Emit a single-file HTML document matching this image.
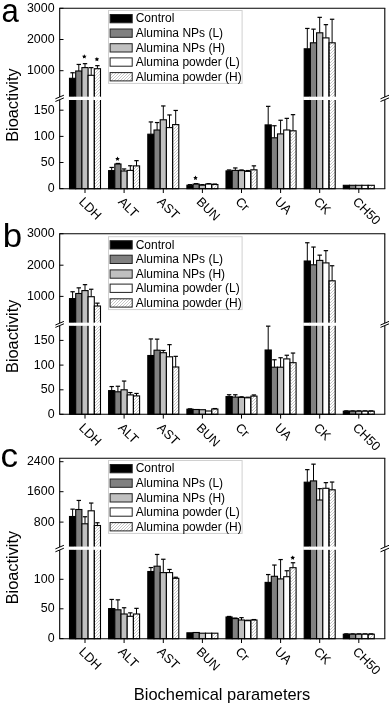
<!DOCTYPE html><html><head><meta charset="utf-8"><style>html,body{margin:0;padding:0;background:#fff;width:392px;height:706px;overflow:hidden}svg{display:block;will-change:transform}text{font-family:"Liberation Sans", sans-serif;fill:#000}</style></head><body>
<svg width="392" height="706" viewBox="0 0 392 706">
<defs><pattern id="hatch" patternUnits="userSpaceOnUse" width="3" height="3"><path d="M-0.75,0.75 L0.75,-0.75 M0,3 L3,0 M2.25,3.75 L3.75,2.25" stroke="#b4b4b4" stroke-width="0.75"/></pattern></defs>
<rect width="392" height="706" fill="#fff"/>
<line x1="72.6" y1="78.3" x2="72.6" y2="72.75" stroke="#000" stroke-width="1"/>
<line x1="70.4" y1="72.75" x2="74.8" y2="72.75" stroke="#000" stroke-width="1.2"/>
<rect x="69.5" y="78.3" width="6.2" height="110.4" fill="#000000" stroke="#000" stroke-width="1.1"/>
<rect x="68.5" y="96.7" width="8.2" height="3.3" fill="#fff"/>
<line x1="78.8" y1="71" x2="78.8" y2="64.45" stroke="#000" stroke-width="1"/>
<line x1="76.6" y1="64.45" x2="81" y2="64.45" stroke="#000" stroke-width="1.2"/>
<rect x="75.7" y="71" width="6.2" height="117.7" fill="#808080" stroke="#000" stroke-width="1.1"/>
<rect x="74.7" y="96.7" width="8.2" height="3.3" fill="#fff"/>
<line x1="85" y1="67.6" x2="85" y2="63.65" stroke="#000" stroke-width="1"/>
<line x1="82.8" y1="63.65" x2="87.2" y2="63.65" stroke="#000" stroke-width="1.2"/>
<rect x="81.9" y="67.6" width="6.2" height="121.1" fill="#c0c0c0" stroke="#000" stroke-width="1.1"/>
<rect x="80.9" y="96.7" width="8.2" height="3.3" fill="#fff"/>
<line x1="91.2" y1="75.3" x2="91.2" y2="67.65" stroke="#000" stroke-width="1"/>
<line x1="89" y1="67.65" x2="93.4" y2="67.65" stroke="#000" stroke-width="1.2"/>
<rect x="88.1" y="75.3" width="6.2" height="113.4" fill="#ffffff" stroke="#000" stroke-width="1.1"/>
<rect x="87.1" y="96.7" width="8.2" height="3.3" fill="#fff"/>
<line x1="97.4" y1="68.7" x2="97.4" y2="65.65" stroke="#000" stroke-width="1"/>
<line x1="95.2" y1="65.65" x2="99.6" y2="65.65" stroke="#000" stroke-width="1.2"/>
<rect x="94.3" y="68.7" width="6.2" height="120" fill="url(#hatch)" stroke="#000" stroke-width="1.1"/>
<rect x="93.3" y="96.7" width="8.2" height="3.3" fill="#fff"/>
<line x1="111.7" y1="170.6" x2="111.7" y2="167.45" stroke="#000" stroke-width="1"/>
<line x1="109.5" y1="167.45" x2="113.9" y2="167.45" stroke="#000" stroke-width="1.2"/>
<rect x="108.6" y="170.6" width="6.2" height="18.1" fill="#000000" stroke="#000" stroke-width="1.1"/>
<line x1="117.9" y1="164" x2="117.9" y2="163.45" stroke="#000" stroke-width="1"/>
<line x1="115.7" y1="163.45" x2="120.1" y2="163.45" stroke="#000" stroke-width="1.2"/>
<rect x="114.8" y="164" width="6.2" height="24.7" fill="#808080" stroke="#000" stroke-width="1.1"/>
<line x1="124.1" y1="171" x2="124.1" y2="168.95" stroke="#000" stroke-width="1"/>
<line x1="121.9" y1="168.95" x2="126.3" y2="168.95" stroke="#000" stroke-width="1.2"/>
<rect x="121" y="171" width="6.2" height="17.7" fill="#c0c0c0" stroke="#000" stroke-width="1.1"/>
<line x1="130.3" y1="170.4" x2="130.3" y2="165.75" stroke="#000" stroke-width="1"/>
<line x1="128.1" y1="165.75" x2="132.5" y2="165.75" stroke="#000" stroke-width="1.2"/>
<rect x="127.2" y="170.4" width="6.2" height="18.3" fill="#ffffff" stroke="#000" stroke-width="1.1"/>
<line x1="136.5" y1="165.9" x2="136.5" y2="160.65" stroke="#000" stroke-width="1"/>
<line x1="134.3" y1="160.65" x2="138.7" y2="160.65" stroke="#000" stroke-width="1.2"/>
<rect x="133.4" y="165.9" width="6.2" height="22.8" fill="url(#hatch)" stroke="#000" stroke-width="1.1"/>
<line x1="150.9" y1="134.2" x2="150.9" y2="121.95" stroke="#000" stroke-width="1"/>
<line x1="148.7" y1="121.95" x2="153.1" y2="121.95" stroke="#000" stroke-width="1.2"/>
<rect x="147.8" y="134.2" width="6.2" height="54.5" fill="#000000" stroke="#000" stroke-width="1.1"/>
<line x1="157.1" y1="130" x2="157.1" y2="122.55" stroke="#000" stroke-width="1"/>
<line x1="154.9" y1="122.55" x2="159.3" y2="122.55" stroke="#000" stroke-width="1.2"/>
<rect x="154" y="130" width="6.2" height="58.7" fill="#808080" stroke="#000" stroke-width="1.1"/>
<line x1="163.3" y1="119.8" x2="163.3" y2="105.95" stroke="#000" stroke-width="1"/>
<line x1="161.1" y1="105.95" x2="165.5" y2="105.95" stroke="#000" stroke-width="1.2"/>
<rect x="160.2" y="119.8" width="6.2" height="68.9" fill="#c0c0c0" stroke="#000" stroke-width="1.1"/>
<line x1="169.5" y1="127.6" x2="169.5" y2="114.95" stroke="#000" stroke-width="1"/>
<line x1="167.3" y1="114.95" x2="171.7" y2="114.95" stroke="#000" stroke-width="1.2"/>
<rect x="166.4" y="127.6" width="6.2" height="61.1" fill="#ffffff" stroke="#000" stroke-width="1.1"/>
<line x1="175.7" y1="124.6" x2="175.7" y2="110.45" stroke="#000" stroke-width="1"/>
<line x1="173.5" y1="110.45" x2="177.9" y2="110.45" stroke="#000" stroke-width="1.2"/>
<rect x="172.6" y="124.6" width="6.2" height="64.1" fill="url(#hatch)" stroke="#000" stroke-width="1.1"/>
<line x1="190" y1="185.2" x2="190" y2="184.65" stroke="#000" stroke-width="1"/>
<line x1="187.8" y1="184.65" x2="192.2" y2="184.65" stroke="#000" stroke-width="1.2"/>
<rect x="186.9" y="185.2" width="6.2" height="3.5" fill="#000000" stroke="#000" stroke-width="1.1"/>
<line x1="196.2" y1="184.1" x2="196.2" y2="183.65" stroke="#000" stroke-width="1"/>
<line x1="194" y1="183.65" x2="198.4" y2="183.65" stroke="#000" stroke-width="1.2"/>
<rect x="193.1" y="184.1" width="6.2" height="4.6" fill="#808080" stroke="#000" stroke-width="1.1"/>
<line x1="202.4" y1="185.2" x2="202.4" y2="184.65" stroke="#000" stroke-width="1"/>
<line x1="200.2" y1="184.65" x2="204.6" y2="184.65" stroke="#000" stroke-width="1.2"/>
<rect x="199.3" y="185.2" width="6.2" height="3.5" fill="#c0c0c0" stroke="#000" stroke-width="1.1"/>
<line x1="208.6" y1="184.1" x2="208.6" y2="183.65" stroke="#000" stroke-width="1"/>
<line x1="206.4" y1="183.65" x2="210.8" y2="183.65" stroke="#000" stroke-width="1.2"/>
<rect x="205.5" y="184.1" width="6.2" height="4.6" fill="#ffffff" stroke="#000" stroke-width="1.1"/>
<line x1="214.8" y1="184.5" x2="214.8" y2="184.05" stroke="#000" stroke-width="1"/>
<line x1="212.6" y1="184.05" x2="217" y2="184.05" stroke="#000" stroke-width="1.2"/>
<rect x="211.7" y="184.5" width="6.2" height="4.2" fill="url(#hatch)" stroke="#000" stroke-width="1.1"/>
<line x1="229.1" y1="170.9" x2="229.1" y2="169.95" stroke="#000" stroke-width="1"/>
<line x1="226.9" y1="169.95" x2="231.3" y2="169.95" stroke="#000" stroke-width="1.2"/>
<rect x="226" y="170.9" width="6.2" height="17.8" fill="#000000" stroke="#000" stroke-width="1.1"/>
<line x1="235.3" y1="170.4" x2="235.3" y2="167.95" stroke="#000" stroke-width="1"/>
<line x1="233.1" y1="167.95" x2="237.5" y2="167.95" stroke="#000" stroke-width="1.2"/>
<rect x="232.2" y="170.4" width="6.2" height="18.3" fill="#808080" stroke="#000" stroke-width="1.1"/>
<line x1="241.5" y1="170.6" x2="241.5" y2="169.95" stroke="#000" stroke-width="1"/>
<line x1="239.3" y1="169.95" x2="243.7" y2="169.95" stroke="#000" stroke-width="1.2"/>
<rect x="238.4" y="170.6" width="6.2" height="18.1" fill="#c0c0c0" stroke="#000" stroke-width="1.1"/>
<line x1="247.7" y1="171.4" x2="247.7" y2="170.55" stroke="#000" stroke-width="1"/>
<line x1="245.5" y1="170.55" x2="249.9" y2="170.55" stroke="#000" stroke-width="1.2"/>
<rect x="244.6" y="171.4" width="6.2" height="17.3" fill="#ffffff" stroke="#000" stroke-width="1.1"/>
<line x1="253.9" y1="169.8" x2="253.9" y2="165.85" stroke="#000" stroke-width="1"/>
<line x1="251.7" y1="165.85" x2="256.1" y2="165.85" stroke="#000" stroke-width="1.2"/>
<rect x="250.8" y="169.8" width="6.2" height="18.9" fill="url(#hatch)" stroke="#000" stroke-width="1.1"/>
<line x1="268.2" y1="124.9" x2="268.2" y2="106.35" stroke="#000" stroke-width="1"/>
<line x1="266" y1="106.35" x2="270.4" y2="106.35" stroke="#000" stroke-width="1.2"/>
<rect x="265.1" y="124.9" width="6.2" height="63.8" fill="#000000" stroke="#000" stroke-width="1.1"/>
<line x1="274.4" y1="137.8" x2="274.4" y2="125.75" stroke="#000" stroke-width="1"/>
<line x1="272.2" y1="125.75" x2="276.6" y2="125.75" stroke="#000" stroke-width="1.2"/>
<rect x="271.3" y="137.8" width="6.2" height="50.9" fill="#808080" stroke="#000" stroke-width="1.1"/>
<line x1="280.6" y1="133.9" x2="280.6" y2="120.25" stroke="#000" stroke-width="1"/>
<line x1="278.4" y1="120.25" x2="282.8" y2="120.25" stroke="#000" stroke-width="1.2"/>
<rect x="277.5" y="133.9" width="6.2" height="54.8" fill="#c0c0c0" stroke="#000" stroke-width="1.1"/>
<line x1="286.8" y1="130" x2="286.8" y2="118.35" stroke="#000" stroke-width="1"/>
<line x1="284.6" y1="118.35" x2="289" y2="118.35" stroke="#000" stroke-width="1.2"/>
<rect x="283.7" y="130" width="6.2" height="58.7" fill="#ffffff" stroke="#000" stroke-width="1.1"/>
<line x1="293" y1="130.8" x2="293" y2="114.65" stroke="#000" stroke-width="1"/>
<line x1="290.8" y1="114.65" x2="295.2" y2="114.65" stroke="#000" stroke-width="1.2"/>
<rect x="289.9" y="130.8" width="6.2" height="57.9" fill="url(#hatch)" stroke="#000" stroke-width="1.1"/>
<line x1="307.3" y1="48.8" x2="307.3" y2="28.45" stroke="#000" stroke-width="1"/>
<line x1="305.1" y1="28.45" x2="309.5" y2="28.45" stroke="#000" stroke-width="1.2"/>
<rect x="304.2" y="48.8" width="6.2" height="139.9" fill="#000000" stroke="#000" stroke-width="1.1"/>
<rect x="303.2" y="96.7" width="8.2" height="3.3" fill="#fff"/>
<line x1="313.5" y1="42.8" x2="313.5" y2="29.15" stroke="#000" stroke-width="1"/>
<line x1="311.3" y1="29.15" x2="315.7" y2="29.15" stroke="#000" stroke-width="1.2"/>
<rect x="310.4" y="42.8" width="6.2" height="145.9" fill="#808080" stroke="#000" stroke-width="1.1"/>
<rect x="309.4" y="96.7" width="8.2" height="3.3" fill="#fff"/>
<line x1="319.7" y1="32.8" x2="319.7" y2="17.35" stroke="#000" stroke-width="1"/>
<line x1="317.5" y1="17.35" x2="321.9" y2="17.35" stroke="#000" stroke-width="1.2"/>
<rect x="316.6" y="32.8" width="6.2" height="155.9" fill="#c0c0c0" stroke="#000" stroke-width="1.1"/>
<rect x="315.6" y="96.7" width="8.2" height="3.3" fill="#fff"/>
<line x1="325.9" y1="37.9" x2="325.9" y2="24.65" stroke="#000" stroke-width="1"/>
<line x1="323.7" y1="24.65" x2="328.1" y2="24.65" stroke="#000" stroke-width="1.2"/>
<rect x="322.8" y="37.9" width="6.2" height="150.8" fill="#ffffff" stroke="#000" stroke-width="1.1"/>
<rect x="321.8" y="96.7" width="8.2" height="3.3" fill="#fff"/>
<line x1="332.1" y1="42.8" x2="332.1" y2="19.25" stroke="#000" stroke-width="1"/>
<line x1="329.9" y1="19.25" x2="334.3" y2="19.25" stroke="#000" stroke-width="1.2"/>
<rect x="329" y="42.8" width="6.2" height="145.9" fill="url(#hatch)" stroke="#000" stroke-width="1.1"/>
<rect x="328" y="96.7" width="8.2" height="3.3" fill="#fff"/>
<rect x="343.3" y="185.3" width="6.2" height="3.4" fill="#000000" stroke="#000" stroke-width="1.1"/>
<rect x="349.5" y="185.3" width="6.2" height="3.4" fill="#808080" stroke="#000" stroke-width="1.1"/>
<rect x="355.7" y="185.3" width="6.2" height="3.4" fill="#c0c0c0" stroke="#000" stroke-width="1.1"/>
<rect x="361.9" y="185.3" width="6.2" height="3.4" fill="#ffffff" stroke="#000" stroke-width="1.1"/>
<rect x="368.1" y="185.3" width="6.2" height="3.4" fill="url(#hatch)" stroke="#000" stroke-width="1.1"/>
<polygon points="84.3,54.2 85.01,55.63 86.58,55.86 85.44,56.97 85.71,58.54 84.3,57.8 82.89,58.54 83.16,56.97 82.02,55.86 83.59,55.63" fill="#000"/>
<polygon points="96.9,56.9 97.61,58.33 99.18,58.56 98.04,59.67 98.31,61.24 96.9,60.5 95.49,61.24 95.76,59.67 94.62,58.56 96.19,58.33" fill="#000"/>
<polygon points="117.5,156.5 118.21,157.93 119.78,158.16 118.64,159.27 118.91,160.84 117.5,160.1 116.09,160.84 116.36,159.27 115.22,158.16 116.79,157.93" fill="#000"/>
<polygon points="195.5,175.6 196.21,177.03 197.78,177.26 196.64,178.37 196.91,179.94 195.5,179.2 194.09,179.94 194.36,178.37 193.22,177.26 194.79,177.03" fill="#000"/>
<line x1="59.7" y1="8.3" x2="59.7" y2="97" stroke="#000" stroke-width="1.1"/>
<line x1="59.7" y1="99.7" x2="59.7" y2="188.7" stroke="#000" stroke-width="1.1"/>
<line x1="384.8" y1="8.3" x2="384.8" y2="97" stroke="#000" stroke-width="1.1"/>
<line x1="384.8" y1="99.7" x2="384.8" y2="188.7" stroke="#000" stroke-width="1.1"/>
<line x1="59.2" y1="188.7" x2="385.3" y2="188.7" stroke="#000" stroke-width="1.1"/>
<line x1="59.2" y1="8.3" x2="385.3" y2="8.3" stroke="#000" stroke-width="1.1"/>
<rect x="58.2" y="97" width="3" height="2.7" fill="#fff"/>
<line x1="55.4" y1="98.8" x2="63.9" y2="95.2" stroke="#000" stroke-width="1"/>
<line x1="55.4" y1="101.5" x2="63.9" y2="97.9" stroke="#000" stroke-width="1"/>
<rect x="383.3" y="97" width="3" height="2.7" fill="#fff"/>
<line x1="380.5" y1="98.8" x2="389" y2="95.2" stroke="#000" stroke-width="1"/>
<line x1="380.5" y1="101.5" x2="389" y2="97.9" stroke="#000" stroke-width="1"/>
<line x1="59.7" y1="8.3" x2="63.5" y2="8.3" stroke="#000" stroke-width="1"/>
<text font-size="12.2" text-anchor="end" transform="translate(54.6,11.9) scale(1.02,1)">3000</text>
<line x1="59.7" y1="39.5" x2="63.5" y2="39.5" stroke="#000" stroke-width="1"/>
<text font-size="12.2" text-anchor="end" transform="translate(54.6,43.1) scale(1.02,1)">2000</text>
<line x1="59.7" y1="70.7" x2="63.5" y2="70.7" stroke="#000" stroke-width="1"/>
<text font-size="12.2" text-anchor="end" transform="translate(54.6,74.3) scale(1.02,1)">1000</text>
<line x1="59.7" y1="110.2" x2="63.5" y2="110.2" stroke="#000" stroke-width="1"/>
<text font-size="12.2" text-anchor="end" transform="translate(54.6,113.8) scale(1.02,1)">150</text>
<line x1="59.7" y1="136.4" x2="63.5" y2="136.4" stroke="#000" stroke-width="1"/>
<text font-size="12.2" text-anchor="end" transform="translate(54.6,140) scale(1.02,1)">100</text>
<line x1="59.7" y1="162.5" x2="63.5" y2="162.5" stroke="#000" stroke-width="1"/>
<text font-size="12.2" text-anchor="end" transform="translate(54.6,166.1) scale(1.02,1)">50</text>
<line x1="59.7" y1="188.6" x2="63.5" y2="188.6" stroke="#000" stroke-width="1"/>
<text font-size="12.2" text-anchor="end" transform="translate(54.6,192.2) scale(1.02,1)">0</text>
<line x1="85" y1="188.7" x2="85" y2="193" stroke="#000" stroke-width="1"/>
<text font-size="12.8" transform="translate(78.3,202.4) rotate(45)">LDH</text>
<line x1="124.1" y1="188.7" x2="124.1" y2="193" stroke="#000" stroke-width="1"/>
<text font-size="12.8" transform="translate(117.4,202.4) rotate(45)">ALT</text>
<line x1="163.3" y1="188.7" x2="163.3" y2="193" stroke="#000" stroke-width="1"/>
<text font-size="12.8" transform="translate(156.6,202.4) rotate(45)">AST</text>
<line x1="202.4" y1="188.7" x2="202.4" y2="193" stroke="#000" stroke-width="1"/>
<text font-size="12.8" transform="translate(195.7,202.4) rotate(45)">BUN</text>
<line x1="241.5" y1="188.7" x2="241.5" y2="193" stroke="#000" stroke-width="1"/>
<text font-size="12.8" transform="translate(234.8,202.4) rotate(45)">Cr</text>
<line x1="280.6" y1="188.7" x2="280.6" y2="193" stroke="#000" stroke-width="1"/>
<text font-size="12.8" transform="translate(273.9,202.4) rotate(45)">UA</text>
<line x1="319.7" y1="188.7" x2="319.7" y2="193" stroke="#000" stroke-width="1"/>
<text font-size="12.8" transform="translate(313,202.4) rotate(45)">CK</text>
<line x1="358.8" y1="188.7" x2="358.8" y2="193" stroke="#000" stroke-width="1"/>
<text font-size="12.8" transform="translate(352.1,202.4) rotate(45)">CH50</text>
<rect x="108.5" y="10.5" width="133.6" height="72.9" fill="#fff" stroke="#d0d0d0" stroke-width="1"/>
<rect x="110.1" y="14.5" width="22.1" height="8.3" fill="#000000" stroke="#222" stroke-width="1"/>
<text x="135.7" y="22.4" font-size="12">Control</text>
<rect x="110.1" y="29" width="22.1" height="8.3" fill="#808080" stroke="#222" stroke-width="1"/>
<text x="135.7" y="36.9" font-size="12">Alumina NPs (L)</text>
<rect x="110.1" y="43.7" width="22.1" height="8.3" fill="#c0c0c0" stroke="#222" stroke-width="1"/>
<text x="135.7" y="51.6" font-size="12">Alumina NPs (H)</text>
<rect x="110.1" y="57.9" width="22.1" height="8.3" fill="#ffffff" stroke="#222" stroke-width="1"/>
<text x="135.7" y="65.8" font-size="12">Alumina powder (L)</text>
<rect x="110.1" y="72.6" width="22.1" height="8.3" fill="url(#hatch)" stroke="#222" stroke-width="1"/>
<text x="135.7" y="80.5" font-size="12">Alumina powder (H)</text>
<text font-size="33.5" transform="translate(1.4,21.6) scale(0.93,1)">a</text>
<text font-size="16.2" transform="translate(18,141.8) rotate(-90) scale(1.007,1)">Bioactivity</text>
<line x1="72.6" y1="298.6" x2="72.6" y2="291.75" stroke="#000" stroke-width="1"/>
<line x1="70.4" y1="291.75" x2="74.8" y2="291.75" stroke="#000" stroke-width="1.2"/>
<rect x="69.5" y="298.6" width="6.2" height="115.7" fill="#000000" stroke="#000" stroke-width="1.1"/>
<rect x="68.5" y="322.7" width="8.2" height="3.1" fill="#fff"/>
<line x1="78.8" y1="293.5" x2="78.8" y2="287.85" stroke="#000" stroke-width="1"/>
<line x1="76.6" y1="287.85" x2="81" y2="287.85" stroke="#000" stroke-width="1.2"/>
<rect x="75.7" y="293.5" width="6.2" height="120.8" fill="#808080" stroke="#000" stroke-width="1.1"/>
<rect x="74.7" y="322.7" width="8.2" height="3.1" fill="#fff"/>
<line x1="85" y1="290.6" x2="85" y2="284.65" stroke="#000" stroke-width="1"/>
<line x1="82.8" y1="284.65" x2="87.2" y2="284.65" stroke="#000" stroke-width="1.2"/>
<rect x="81.9" y="290.6" width="6.2" height="123.7" fill="#c0c0c0" stroke="#000" stroke-width="1.1"/>
<rect x="80.9" y="322.7" width="8.2" height="3.1" fill="#fff"/>
<line x1="91.2" y1="296.7" x2="91.2" y2="289.25" stroke="#000" stroke-width="1"/>
<line x1="89" y1="289.25" x2="93.4" y2="289.25" stroke="#000" stroke-width="1.2"/>
<rect x="88.1" y="296.7" width="6.2" height="117.6" fill="#ffffff" stroke="#000" stroke-width="1.1"/>
<rect x="87.1" y="322.7" width="8.2" height="3.1" fill="#fff"/>
<line x1="97.4" y1="306" x2="97.4" y2="303.15" stroke="#000" stroke-width="1"/>
<line x1="95.2" y1="303.15" x2="99.6" y2="303.15" stroke="#000" stroke-width="1.2"/>
<rect x="94.3" y="306" width="6.2" height="108.3" fill="url(#hatch)" stroke="#000" stroke-width="1.1"/>
<rect x="93.3" y="322.7" width="8.2" height="3.1" fill="#fff"/>
<line x1="111.7" y1="390.6" x2="111.7" y2="386.55" stroke="#000" stroke-width="1"/>
<line x1="109.5" y1="386.55" x2="113.9" y2="386.55" stroke="#000" stroke-width="1.2"/>
<rect x="108.6" y="390.6" width="6.2" height="23.7" fill="#000000" stroke="#000" stroke-width="1.1"/>
<line x1="117.9" y1="391.8" x2="117.9" y2="386.25" stroke="#000" stroke-width="1"/>
<line x1="115.7" y1="386.25" x2="120.1" y2="386.25" stroke="#000" stroke-width="1.2"/>
<rect x="114.8" y="391.8" width="6.2" height="22.5" fill="#808080" stroke="#000" stroke-width="1.1"/>
<line x1="124.1" y1="389.8" x2="124.1" y2="381.05" stroke="#000" stroke-width="1"/>
<line x1="121.9" y1="381.05" x2="126.3" y2="381.05" stroke="#000" stroke-width="1.2"/>
<rect x="121" y="389.8" width="6.2" height="24.5" fill="#c0c0c0" stroke="#000" stroke-width="1.1"/>
<line x1="130.3" y1="394.9" x2="130.3" y2="392.55" stroke="#000" stroke-width="1"/>
<line x1="128.1" y1="392.55" x2="132.5" y2="392.55" stroke="#000" stroke-width="1.2"/>
<rect x="127.2" y="394.9" width="6.2" height="19.4" fill="#ffffff" stroke="#000" stroke-width="1.1"/>
<line x1="136.5" y1="395.9" x2="136.5" y2="393.45" stroke="#000" stroke-width="1"/>
<line x1="134.3" y1="393.45" x2="138.7" y2="393.45" stroke="#000" stroke-width="1.2"/>
<rect x="133.4" y="395.9" width="6.2" height="18.4" fill="url(#hatch)" stroke="#000" stroke-width="1.1"/>
<line x1="150.9" y1="355.5" x2="150.9" y2="338.95" stroke="#000" stroke-width="1"/>
<line x1="148.7" y1="338.95" x2="153.1" y2="338.95" stroke="#000" stroke-width="1.2"/>
<rect x="147.8" y="355.5" width="6.2" height="58.8" fill="#000000" stroke="#000" stroke-width="1.1"/>
<line x1="157.1" y1="350.2" x2="157.1" y2="339.15" stroke="#000" stroke-width="1"/>
<line x1="154.9" y1="339.15" x2="159.3" y2="339.15" stroke="#000" stroke-width="1.2"/>
<rect x="154" y="350.2" width="6.2" height="64.1" fill="#808080" stroke="#000" stroke-width="1.1"/>
<line x1="163.3" y1="352.7" x2="163.3" y2="350.45" stroke="#000" stroke-width="1"/>
<line x1="161.1" y1="350.45" x2="165.5" y2="350.45" stroke="#000" stroke-width="1.2"/>
<rect x="160.2" y="352.7" width="6.2" height="61.6" fill="#c0c0c0" stroke="#000" stroke-width="1.1"/>
<line x1="169.5" y1="356.8" x2="169.5" y2="344.65" stroke="#000" stroke-width="1"/>
<line x1="167.3" y1="344.65" x2="171.7" y2="344.65" stroke="#000" stroke-width="1.2"/>
<rect x="166.4" y="356.8" width="6.2" height="57.5" fill="#ffffff" stroke="#000" stroke-width="1.1"/>
<line x1="175.7" y1="367" x2="175.7" y2="356.35" stroke="#000" stroke-width="1"/>
<line x1="173.5" y1="356.35" x2="177.9" y2="356.35" stroke="#000" stroke-width="1.2"/>
<rect x="172.6" y="367" width="6.2" height="47.3" fill="url(#hatch)" stroke="#000" stroke-width="1.1"/>
<line x1="190" y1="409.2" x2="190" y2="408.85" stroke="#000" stroke-width="1"/>
<line x1="187.8" y1="408.85" x2="192.2" y2="408.85" stroke="#000" stroke-width="1.2"/>
<rect x="186.9" y="409.2" width="6.2" height="5.1" fill="#000000" stroke="#000" stroke-width="1.1"/>
<rect x="193.1" y="409.5" width="6.2" height="4.8" fill="#808080" stroke="#000" stroke-width="1.1"/>
<rect x="199.3" y="409.7" width="6.2" height="4.6" fill="#c0c0c0" stroke="#000" stroke-width="1.1"/>
<rect x="205.5" y="411" width="6.2" height="3.3" fill="#ffffff" stroke="#000" stroke-width="1.1"/>
<line x1="214.8" y1="409" x2="214.8" y2="408.55" stroke="#000" stroke-width="1"/>
<line x1="212.6" y1="408.55" x2="217" y2="408.55" stroke="#000" stroke-width="1.2"/>
<rect x="211.7" y="409" width="6.2" height="5.3" fill="url(#hatch)" stroke="#000" stroke-width="1.1"/>
<line x1="229.1" y1="396.6" x2="229.1" y2="394.75" stroke="#000" stroke-width="1"/>
<line x1="226.9" y1="394.75" x2="231.3" y2="394.75" stroke="#000" stroke-width="1.2"/>
<rect x="226" y="396.6" width="6.2" height="17.7" fill="#000000" stroke="#000" stroke-width="1.1"/>
<line x1="235.3" y1="397.1" x2="235.3" y2="394.75" stroke="#000" stroke-width="1"/>
<line x1="233.1" y1="394.75" x2="237.5" y2="394.75" stroke="#000" stroke-width="1.2"/>
<rect x="232.2" y="397.1" width="6.2" height="17.2" fill="#808080" stroke="#000" stroke-width="1.1"/>
<line x1="241.5" y1="397.4" x2="241.5" y2="396.75" stroke="#000" stroke-width="1"/>
<line x1="239.3" y1="396.75" x2="243.7" y2="396.75" stroke="#000" stroke-width="1.2"/>
<rect x="238.4" y="397.4" width="6.2" height="16.9" fill="#c0c0c0" stroke="#000" stroke-width="1.1"/>
<line x1="247.7" y1="397.8" x2="247.7" y2="397.25" stroke="#000" stroke-width="1"/>
<line x1="245.5" y1="397.25" x2="249.9" y2="397.25" stroke="#000" stroke-width="1.2"/>
<rect x="244.6" y="397.8" width="6.2" height="16.5" fill="#ffffff" stroke="#000" stroke-width="1.1"/>
<line x1="253.9" y1="396.1" x2="253.9" y2="394.95" stroke="#000" stroke-width="1"/>
<line x1="251.7" y1="394.95" x2="256.1" y2="394.95" stroke="#000" stroke-width="1.2"/>
<rect x="250.8" y="396.1" width="6.2" height="18.2" fill="url(#hatch)" stroke="#000" stroke-width="1.1"/>
<line x1="268.2" y1="350" x2="268.2" y2="326.15" stroke="#000" stroke-width="1"/>
<line x1="266" y1="326.15" x2="270.4" y2="326.15" stroke="#000" stroke-width="1.2"/>
<rect x="265.1" y="350" width="6.2" height="64.3" fill="#000000" stroke="#000" stroke-width="1.1"/>
<line x1="274.4" y1="367.2" x2="274.4" y2="359.75" stroke="#000" stroke-width="1"/>
<line x1="272.2" y1="359.75" x2="276.6" y2="359.75" stroke="#000" stroke-width="1.2"/>
<rect x="271.3" y="367.2" width="6.2" height="47.1" fill="#808080" stroke="#000" stroke-width="1.1"/>
<line x1="280.6" y1="367.2" x2="280.6" y2="357.75" stroke="#000" stroke-width="1"/>
<line x1="278.4" y1="357.75" x2="282.8" y2="357.75" stroke="#000" stroke-width="1.2"/>
<rect x="277.5" y="367.2" width="6.2" height="47.1" fill="#c0c0c0" stroke="#000" stroke-width="1.1"/>
<line x1="286.8" y1="358.9" x2="286.8" y2="355.25" stroke="#000" stroke-width="1"/>
<line x1="284.6" y1="355.25" x2="289" y2="355.25" stroke="#000" stroke-width="1.2"/>
<rect x="283.7" y="358.9" width="6.2" height="55.4" fill="#ffffff" stroke="#000" stroke-width="1.1"/>
<line x1="293" y1="362.7" x2="293" y2="353.05" stroke="#000" stroke-width="1"/>
<line x1="290.8" y1="353.05" x2="295.2" y2="353.05" stroke="#000" stroke-width="1.2"/>
<rect x="289.9" y="362.7" width="6.2" height="51.6" fill="url(#hatch)" stroke="#000" stroke-width="1.1"/>
<line x1="307.3" y1="261" x2="307.3" y2="242.75" stroke="#000" stroke-width="1"/>
<line x1="305.1" y1="242.75" x2="309.5" y2="242.75" stroke="#000" stroke-width="1.2"/>
<rect x="304.2" y="261" width="6.2" height="153.3" fill="#000000" stroke="#000" stroke-width="1.1"/>
<rect x="303.2" y="322.7" width="8.2" height="3.1" fill="#fff"/>
<line x1="313.5" y1="264.8" x2="313.5" y2="247.05" stroke="#000" stroke-width="1"/>
<line x1="311.3" y1="247.05" x2="315.7" y2="247.05" stroke="#000" stroke-width="1.2"/>
<rect x="310.4" y="264.8" width="6.2" height="149.5" fill="#808080" stroke="#000" stroke-width="1.1"/>
<rect x="309.4" y="322.7" width="8.2" height="3.1" fill="#fff"/>
<line x1="319.7" y1="260.4" x2="319.7" y2="255.15" stroke="#000" stroke-width="1"/>
<line x1="317.5" y1="255.15" x2="321.9" y2="255.15" stroke="#000" stroke-width="1.2"/>
<rect x="316.6" y="260.4" width="6.2" height="153.9" fill="#c0c0c0" stroke="#000" stroke-width="1.1"/>
<rect x="315.6" y="322.7" width="8.2" height="3.1" fill="#fff"/>
<line x1="325.9" y1="262.9" x2="325.9" y2="250.65" stroke="#000" stroke-width="1"/>
<line x1="323.7" y1="250.65" x2="328.1" y2="250.65" stroke="#000" stroke-width="1.2"/>
<rect x="322.8" y="262.9" width="6.2" height="151.4" fill="#ffffff" stroke="#000" stroke-width="1.1"/>
<rect x="321.8" y="322.7" width="8.2" height="3.1" fill="#fff"/>
<line x1="332.1" y1="280.8" x2="332.1" y2="265.75" stroke="#000" stroke-width="1"/>
<line x1="329.9" y1="265.75" x2="334.3" y2="265.75" stroke="#000" stroke-width="1.2"/>
<rect x="329" y="280.8" width="6.2" height="133.5" fill="url(#hatch)" stroke="#000" stroke-width="1.1"/>
<rect x="328" y="322.7" width="8.2" height="3.1" fill="#fff"/>
<line x1="346.4" y1="411.2" x2="346.4" y2="410.85" stroke="#000" stroke-width="1"/>
<line x1="344.2" y1="410.85" x2="348.6" y2="410.85" stroke="#000" stroke-width="1.2"/>
<rect x="343.3" y="411.2" width="6.2" height="3.1" fill="#000000" stroke="#000" stroke-width="1.1"/>
<line x1="352.6" y1="411.2" x2="352.6" y2="410.85" stroke="#000" stroke-width="1"/>
<line x1="350.4" y1="410.85" x2="354.8" y2="410.85" stroke="#000" stroke-width="1.2"/>
<rect x="349.5" y="411.2" width="6.2" height="3.1" fill="#808080" stroke="#000" stroke-width="1.1"/>
<line x1="358.8" y1="411.2" x2="358.8" y2="410.85" stroke="#000" stroke-width="1"/>
<line x1="356.6" y1="410.85" x2="361" y2="410.85" stroke="#000" stroke-width="1.2"/>
<rect x="355.7" y="411.2" width="6.2" height="3.1" fill="#c0c0c0" stroke="#000" stroke-width="1.1"/>
<line x1="365" y1="411.2" x2="365" y2="410.85" stroke="#000" stroke-width="1"/>
<line x1="362.8" y1="410.85" x2="367.2" y2="410.85" stroke="#000" stroke-width="1.2"/>
<rect x="361.9" y="411.2" width="6.2" height="3.1" fill="#ffffff" stroke="#000" stroke-width="1.1"/>
<line x1="371.2" y1="411.2" x2="371.2" y2="410.85" stroke="#000" stroke-width="1"/>
<line x1="369" y1="410.85" x2="373.4" y2="410.85" stroke="#000" stroke-width="1.2"/>
<rect x="368.1" y="411.2" width="6.2" height="3.1" fill="url(#hatch)" stroke="#000" stroke-width="1.1"/>
<line x1="59.7" y1="233.7" x2="59.7" y2="323.2" stroke="#000" stroke-width="1.1"/>
<line x1="59.7" y1="325.6" x2="59.7" y2="414.3" stroke="#000" stroke-width="1.1"/>
<line x1="384.8" y1="233.7" x2="384.8" y2="323.2" stroke="#000" stroke-width="1.1"/>
<line x1="384.8" y1="325.6" x2="384.8" y2="414.3" stroke="#000" stroke-width="1.1"/>
<line x1="59.2" y1="414.3" x2="385.3" y2="414.3" stroke="#000" stroke-width="1.1"/>
<line x1="59.2" y1="233.7" x2="385.3" y2="233.7" stroke="#000" stroke-width="1.1"/>
<rect x="58.2" y="323.2" width="3" height="2.4" fill="#fff"/>
<line x1="55.4" y1="325" x2="63.9" y2="321.4" stroke="#000" stroke-width="1"/>
<line x1="55.4" y1="327.4" x2="63.9" y2="323.8" stroke="#000" stroke-width="1"/>
<rect x="383.3" y="323.2" width="3" height="2.4" fill="#fff"/>
<line x1="380.5" y1="325" x2="389" y2="321.4" stroke="#000" stroke-width="1"/>
<line x1="380.5" y1="327.4" x2="389" y2="323.8" stroke="#000" stroke-width="1"/>
<line x1="59.7" y1="233.7" x2="63.5" y2="233.7" stroke="#000" stroke-width="1"/>
<text font-size="12.2" text-anchor="end" transform="translate(54.6,237.3) scale(1.02,1)">3000</text>
<line x1="59.7" y1="265.2" x2="63.5" y2="265.2" stroke="#000" stroke-width="1"/>
<text font-size="12.2" text-anchor="end" transform="translate(54.6,268.8) scale(1.02,1)">2000</text>
<line x1="59.7" y1="296.4" x2="63.5" y2="296.4" stroke="#000" stroke-width="1"/>
<text font-size="12.2" text-anchor="end" transform="translate(54.6,300) scale(1.02,1)">1000</text>
<line x1="59.7" y1="340.4" x2="63.5" y2="340.4" stroke="#000" stroke-width="1"/>
<text font-size="12.2" text-anchor="end" transform="translate(54.6,344) scale(1.02,1)">150</text>
<line x1="59.7" y1="365.1" x2="63.5" y2="365.1" stroke="#000" stroke-width="1"/>
<text font-size="12.2" text-anchor="end" transform="translate(54.6,368.7) scale(1.02,1)">100</text>
<line x1="59.7" y1="389.8" x2="63.5" y2="389.8" stroke="#000" stroke-width="1"/>
<text font-size="12.2" text-anchor="end" transform="translate(54.6,393.4) scale(1.02,1)">50</text>
<line x1="59.7" y1="414.3" x2="63.5" y2="414.3" stroke="#000" stroke-width="1"/>
<text font-size="12.2" text-anchor="end" transform="translate(54.6,417.9) scale(1.02,1)">0</text>
<line x1="85" y1="414.3" x2="85" y2="418.6" stroke="#000" stroke-width="1"/>
<text font-size="12.8" transform="translate(78.3,428.4) rotate(45)">LDH</text>
<line x1="124.1" y1="414.3" x2="124.1" y2="418.6" stroke="#000" stroke-width="1"/>
<text font-size="12.8" transform="translate(117.4,428.4) rotate(45)">ALT</text>
<line x1="163.3" y1="414.3" x2="163.3" y2="418.6" stroke="#000" stroke-width="1"/>
<text font-size="12.8" transform="translate(156.6,428.4) rotate(45)">AST</text>
<line x1="202.4" y1="414.3" x2="202.4" y2="418.6" stroke="#000" stroke-width="1"/>
<text font-size="12.8" transform="translate(195.7,428.4) rotate(45)">BUN</text>
<line x1="241.5" y1="414.3" x2="241.5" y2="418.6" stroke="#000" stroke-width="1"/>
<text font-size="12.8" transform="translate(234.8,428.4) rotate(45)">Cr</text>
<line x1="280.6" y1="414.3" x2="280.6" y2="418.6" stroke="#000" stroke-width="1"/>
<text font-size="12.8" transform="translate(273.9,428.4) rotate(45)">UA</text>
<line x1="319.7" y1="414.3" x2="319.7" y2="418.6" stroke="#000" stroke-width="1"/>
<text font-size="12.8" transform="translate(313,428.4) rotate(45)">CK</text>
<line x1="358.8" y1="414.3" x2="358.8" y2="418.6" stroke="#000" stroke-width="1"/>
<text font-size="12.8" transform="translate(352.1,428.4) rotate(45)">CH50</text>
<rect x="108.5" y="236.7" width="133.6" height="72.9" fill="#fff" stroke="#d0d0d0" stroke-width="1"/>
<rect x="110.1" y="240.7" width="22.1" height="8.3" fill="#000000" stroke="#222" stroke-width="1"/>
<text x="135.7" y="248.6" font-size="12">Control</text>
<rect x="110.1" y="255.2" width="22.1" height="8.3" fill="#808080" stroke="#222" stroke-width="1"/>
<text x="135.7" y="263.1" font-size="12">Alumina NPs (L)</text>
<rect x="110.1" y="269.9" width="22.1" height="8.3" fill="#c0c0c0" stroke="#222" stroke-width="1"/>
<text x="135.7" y="277.8" font-size="12">Alumina NPs (H)</text>
<rect x="110.1" y="284.1" width="22.1" height="8.3" fill="#ffffff" stroke="#222" stroke-width="1"/>
<text x="135.7" y="292" font-size="12">Alumina powder (L)</text>
<rect x="110.1" y="298.8" width="22.1" height="8.3" fill="url(#hatch)" stroke="#222" stroke-width="1"/>
<text x="135.7" y="306.7" font-size="12">Alumina powder (H)</text>
<text font-size="33.5" transform="translate(2.8,247.1) scale(1.04,1)">b</text>
<text font-size="16.2" transform="translate(18,373) rotate(-90) scale(1.007,1)">Bioactivity</text>
<line x1="72.6" y1="516.5" x2="72.6" y2="509.15" stroke="#000" stroke-width="1"/>
<line x1="70.4" y1="509.15" x2="74.8" y2="509.15" stroke="#000" stroke-width="1.2"/>
<rect x="69.5" y="516.5" width="6.2" height="122.2" fill="#000000" stroke="#000" stroke-width="1.1"/>
<rect x="68.5" y="546.6" width="8.2" height="3.2" fill="#fff"/>
<line x1="78.8" y1="509.5" x2="78.8" y2="500.45" stroke="#000" stroke-width="1"/>
<line x1="76.6" y1="500.45" x2="81" y2="500.45" stroke="#000" stroke-width="1.2"/>
<rect x="75.7" y="509.5" width="6.2" height="129.2" fill="#808080" stroke="#000" stroke-width="1.1"/>
<rect x="74.7" y="546.6" width="8.2" height="3.2" fill="#fff"/>
<line x1="85" y1="523.8" x2="85" y2="516.75" stroke="#000" stroke-width="1"/>
<line x1="82.8" y1="516.75" x2="87.2" y2="516.75" stroke="#000" stroke-width="1.2"/>
<rect x="81.9" y="523.8" width="6.2" height="114.9" fill="#c0c0c0" stroke="#000" stroke-width="1.1"/>
<rect x="80.9" y="546.6" width="8.2" height="3.2" fill="#fff"/>
<line x1="91.2" y1="510.8" x2="91.2" y2="503.05" stroke="#000" stroke-width="1"/>
<line x1="89" y1="503.05" x2="93.4" y2="503.05" stroke="#000" stroke-width="1.2"/>
<rect x="88.1" y="510.8" width="6.2" height="127.9" fill="#ffffff" stroke="#000" stroke-width="1.1"/>
<rect x="87.1" y="546.6" width="8.2" height="3.2" fill="#fff"/>
<line x1="97.4" y1="525.5" x2="97.4" y2="522.75" stroke="#000" stroke-width="1"/>
<line x1="95.2" y1="522.75" x2="99.6" y2="522.75" stroke="#000" stroke-width="1.2"/>
<rect x="94.3" y="525.5" width="6.2" height="113.2" fill="url(#hatch)" stroke="#000" stroke-width="1.1"/>
<rect x="93.3" y="546.6" width="8.2" height="3.2" fill="#fff"/>
<line x1="111.7" y1="608.6" x2="111.7" y2="599.45" stroke="#000" stroke-width="1"/>
<line x1="109.5" y1="599.45" x2="113.9" y2="599.45" stroke="#000" stroke-width="1.2"/>
<rect x="108.6" y="608.6" width="6.2" height="30.1" fill="#000000" stroke="#000" stroke-width="1.1"/>
<line x1="117.9" y1="609.8" x2="117.9" y2="599.85" stroke="#000" stroke-width="1"/>
<line x1="115.7" y1="599.85" x2="120.1" y2="599.85" stroke="#000" stroke-width="1.2"/>
<rect x="114.8" y="609.8" width="6.2" height="28.9" fill="#808080" stroke="#000" stroke-width="1.1"/>
<line x1="124.1" y1="614" x2="124.1" y2="607.75" stroke="#000" stroke-width="1"/>
<line x1="121.9" y1="607.75" x2="126.3" y2="607.75" stroke="#000" stroke-width="1.2"/>
<rect x="121" y="614" width="6.2" height="24.7" fill="#c0c0c0" stroke="#000" stroke-width="1.1"/>
<line x1="130.3" y1="616.3" x2="130.3" y2="612.85" stroke="#000" stroke-width="1"/>
<line x1="128.1" y1="612.85" x2="132.5" y2="612.85" stroke="#000" stroke-width="1.2"/>
<rect x="127.2" y="616.3" width="6.2" height="22.4" fill="#ffffff" stroke="#000" stroke-width="1.1"/>
<line x1="136.5" y1="614" x2="136.5" y2="608.35" stroke="#000" stroke-width="1"/>
<line x1="134.3" y1="608.35" x2="138.7" y2="608.35" stroke="#000" stroke-width="1.2"/>
<rect x="133.4" y="614" width="6.2" height="24.7" fill="url(#hatch)" stroke="#000" stroke-width="1.1"/>
<line x1="150.9" y1="571.5" x2="150.9" y2="567.55" stroke="#000" stroke-width="1"/>
<line x1="148.7" y1="567.55" x2="153.1" y2="567.55" stroke="#000" stroke-width="1.2"/>
<rect x="147.8" y="571.5" width="6.2" height="67.2" fill="#000000" stroke="#000" stroke-width="1.1"/>
<line x1="157.1" y1="566.2" x2="157.1" y2="554.45" stroke="#000" stroke-width="1"/>
<line x1="154.9" y1="554.45" x2="159.3" y2="554.45" stroke="#000" stroke-width="1.2"/>
<rect x="154" y="566.2" width="6.2" height="72.5" fill="#808080" stroke="#000" stroke-width="1.1"/>
<line x1="163.3" y1="572.6" x2="163.3" y2="559.25" stroke="#000" stroke-width="1"/>
<line x1="161.1" y1="559.25" x2="165.5" y2="559.25" stroke="#000" stroke-width="1.2"/>
<rect x="160.2" y="572.6" width="6.2" height="66.1" fill="#c0c0c0" stroke="#000" stroke-width="1.1"/>
<line x1="169.5" y1="572.6" x2="169.5" y2="569.45" stroke="#000" stroke-width="1"/>
<line x1="167.3" y1="569.45" x2="171.7" y2="569.45" stroke="#000" stroke-width="1.2"/>
<rect x="166.4" y="572.6" width="6.2" height="66.1" fill="#ffffff" stroke="#000" stroke-width="1.1"/>
<line x1="175.7" y1="578.3" x2="175.7" y2="577.25" stroke="#000" stroke-width="1"/>
<line x1="173.5" y1="577.25" x2="177.9" y2="577.25" stroke="#000" stroke-width="1.2"/>
<rect x="172.6" y="578.3" width="6.2" height="60.4" fill="url(#hatch)" stroke="#000" stroke-width="1.1"/>
<rect x="186.9" y="632.8" width="6.2" height="5.9" fill="#000000" stroke="#000" stroke-width="1.1"/>
<rect x="193.1" y="632.5" width="6.2" height="6.2" fill="#808080" stroke="#000" stroke-width="1.1"/>
<rect x="199.3" y="633.2" width="6.2" height="5.5" fill="#c0c0c0" stroke="#000" stroke-width="1.1"/>
<rect x="205.5" y="633.2" width="6.2" height="5.5" fill="#ffffff" stroke="#000" stroke-width="1.1"/>
<rect x="211.7" y="633.2" width="6.2" height="5.5" fill="url(#hatch)" stroke="#000" stroke-width="1.1"/>
<line x1="229.1" y1="617" x2="229.1" y2="616.45" stroke="#000" stroke-width="1"/>
<line x1="226.9" y1="616.45" x2="231.3" y2="616.45" stroke="#000" stroke-width="1.2"/>
<rect x="226" y="617" width="6.2" height="21.7" fill="#000000" stroke="#000" stroke-width="1.1"/>
<line x1="235.3" y1="618.6" x2="235.3" y2="618.05" stroke="#000" stroke-width="1"/>
<line x1="233.1" y1="618.05" x2="237.5" y2="618.05" stroke="#000" stroke-width="1.2"/>
<rect x="232.2" y="618.6" width="6.2" height="20.1" fill="#808080" stroke="#000" stroke-width="1.1"/>
<line x1="241.5" y1="620" x2="241.5" y2="617.65" stroke="#000" stroke-width="1"/>
<line x1="239.3" y1="617.65" x2="243.7" y2="617.65" stroke="#000" stroke-width="1.2"/>
<rect x="238.4" y="620" width="6.2" height="18.7" fill="#c0c0c0" stroke="#000" stroke-width="1.1"/>
<line x1="247.7" y1="620.7" x2="247.7" y2="620.25" stroke="#000" stroke-width="1"/>
<line x1="245.5" y1="620.25" x2="249.9" y2="620.25" stroke="#000" stroke-width="1.2"/>
<rect x="244.6" y="620.7" width="6.2" height="18" fill="#ffffff" stroke="#000" stroke-width="1.1"/>
<line x1="253.9" y1="620" x2="253.9" y2="619.55" stroke="#000" stroke-width="1"/>
<line x1="251.7" y1="619.55" x2="256.1" y2="619.55" stroke="#000" stroke-width="1.2"/>
<rect x="250.8" y="620" width="6.2" height="18.7" fill="url(#hatch)" stroke="#000" stroke-width="1.1"/>
<line x1="268.2" y1="582.4" x2="268.2" y2="574.55" stroke="#000" stroke-width="1"/>
<line x1="266" y1="574.55" x2="270.4" y2="574.55" stroke="#000" stroke-width="1.2"/>
<rect x="265.1" y="582.4" width="6.2" height="56.3" fill="#000000" stroke="#000" stroke-width="1.1"/>
<line x1="274.4" y1="576.3" x2="274.4" y2="565.05" stroke="#000" stroke-width="1"/>
<line x1="272.2" y1="565.05" x2="276.6" y2="565.05" stroke="#000" stroke-width="1.2"/>
<rect x="271.3" y="576.3" width="6.2" height="62.4" fill="#808080" stroke="#000" stroke-width="1.1"/>
<line x1="280.6" y1="578.9" x2="280.6" y2="559.55" stroke="#000" stroke-width="1"/>
<line x1="278.4" y1="559.55" x2="282.8" y2="559.55" stroke="#000" stroke-width="1.2"/>
<rect x="277.5" y="578.9" width="6.2" height="59.8" fill="#c0c0c0" stroke="#000" stroke-width="1.1"/>
<line x1="286.8" y1="576.7" x2="286.8" y2="570.75" stroke="#000" stroke-width="1"/>
<line x1="284.6" y1="570.75" x2="289" y2="570.75" stroke="#000" stroke-width="1.2"/>
<rect x="283.7" y="576.7" width="6.2" height="62" fill="#ffffff" stroke="#000" stroke-width="1.1"/>
<line x1="293" y1="567.7" x2="293" y2="562.75" stroke="#000" stroke-width="1"/>
<line x1="290.8" y1="562.75" x2="295.2" y2="562.75" stroke="#000" stroke-width="1.2"/>
<rect x="289.9" y="567.7" width="6.2" height="71" fill="url(#hatch)" stroke="#000" stroke-width="1.1"/>
<line x1="307.3" y1="482.2" x2="307.3" y2="469.65" stroke="#000" stroke-width="1"/>
<line x1="305.1" y1="469.65" x2="309.5" y2="469.65" stroke="#000" stroke-width="1.2"/>
<rect x="304.2" y="482.2" width="6.2" height="156.5" fill="#000000" stroke="#000" stroke-width="1.1"/>
<rect x="303.2" y="546.6" width="8.2" height="3.2" fill="#fff"/>
<line x1="313.5" y1="480.9" x2="313.5" y2="464.15" stroke="#000" stroke-width="1"/>
<line x1="311.3" y1="464.15" x2="315.7" y2="464.15" stroke="#000" stroke-width="1.2"/>
<rect x="310.4" y="480.9" width="6.2" height="157.8" fill="#808080" stroke="#000" stroke-width="1.1"/>
<rect x="309.4" y="546.6" width="8.2" height="3.2" fill="#fff"/>
<line x1="319.7" y1="500" x2="319.7" y2="488.65" stroke="#000" stroke-width="1"/>
<line x1="317.5" y1="488.65" x2="321.9" y2="488.65" stroke="#000" stroke-width="1.2"/>
<rect x="316.6" y="500" width="6.2" height="138.7" fill="#c0c0c0" stroke="#000" stroke-width="1.1"/>
<rect x="315.6" y="546.6" width="8.2" height="3.2" fill="#fff"/>
<line x1="325.9" y1="488.3" x2="325.9" y2="482.65" stroke="#000" stroke-width="1"/>
<line x1="323.7" y1="482.65" x2="328.1" y2="482.65" stroke="#000" stroke-width="1.2"/>
<rect x="322.8" y="488.3" width="6.2" height="150.4" fill="#ffffff" stroke="#000" stroke-width="1.1"/>
<rect x="321.8" y="546.6" width="8.2" height="3.2" fill="#fff"/>
<line x1="332.1" y1="489.8" x2="332.1" y2="482.05" stroke="#000" stroke-width="1"/>
<line x1="329.9" y1="482.05" x2="334.3" y2="482.05" stroke="#000" stroke-width="1.2"/>
<rect x="329" y="489.8" width="6.2" height="148.9" fill="url(#hatch)" stroke="#000" stroke-width="1.1"/>
<rect x="328" y="546.6" width="8.2" height="3.2" fill="#fff"/>
<line x1="346.4" y1="634.2" x2="346.4" y2="633.85" stroke="#000" stroke-width="1"/>
<line x1="344.2" y1="633.85" x2="348.6" y2="633.85" stroke="#000" stroke-width="1.2"/>
<rect x="343.3" y="634.2" width="6.2" height="4.5" fill="#000000" stroke="#000" stroke-width="1.1"/>
<line x1="352.6" y1="634.2" x2="352.6" y2="633.85" stroke="#000" stroke-width="1"/>
<line x1="350.4" y1="633.85" x2="354.8" y2="633.85" stroke="#000" stroke-width="1.2"/>
<rect x="349.5" y="634.2" width="6.2" height="4.5" fill="#808080" stroke="#000" stroke-width="1.1"/>
<line x1="358.8" y1="634.2" x2="358.8" y2="633.85" stroke="#000" stroke-width="1"/>
<line x1="356.6" y1="633.85" x2="361" y2="633.85" stroke="#000" stroke-width="1.2"/>
<rect x="355.7" y="634.2" width="6.2" height="4.5" fill="#c0c0c0" stroke="#000" stroke-width="1.1"/>
<line x1="365" y1="634.2" x2="365" y2="633.85" stroke="#000" stroke-width="1"/>
<line x1="362.8" y1="633.85" x2="367.2" y2="633.85" stroke="#000" stroke-width="1.2"/>
<rect x="361.9" y="634.2" width="6.2" height="4.5" fill="#ffffff" stroke="#000" stroke-width="1.1"/>
<line x1="371.2" y1="634.2" x2="371.2" y2="633.85" stroke="#000" stroke-width="1"/>
<line x1="369" y1="633.85" x2="373.4" y2="633.85" stroke="#000" stroke-width="1.2"/>
<rect x="368.1" y="634.2" width="6.2" height="4.5" fill="url(#hatch)" stroke="#000" stroke-width="1.1"/>
<polygon points="292.7,555.4 293.41,556.83 294.98,557.06 293.84,558.17 294.11,559.74 292.7,559 291.29,559.74 291.56,558.17 290.42,557.06 291.99,556.83" fill="#000"/>
<line x1="59.7" y1="458.2" x2="59.7" y2="547.1" stroke="#000" stroke-width="1.1"/>
<line x1="59.7" y1="550" x2="59.7" y2="638.7" stroke="#000" stroke-width="1.1"/>
<line x1="384.8" y1="458.2" x2="384.8" y2="547.1" stroke="#000" stroke-width="1.1"/>
<line x1="384.8" y1="550" x2="384.8" y2="638.7" stroke="#000" stroke-width="1.1"/>
<line x1="59.2" y1="638.7" x2="385.3" y2="638.7" stroke="#000" stroke-width="1.1"/>
<line x1="59.2" y1="458.2" x2="385.3" y2="458.2" stroke="#000" stroke-width="1.1"/>
<rect x="58.2" y="547.1" width="3" height="2.9" fill="#fff"/>
<line x1="55.4" y1="548.9" x2="63.9" y2="545.3" stroke="#000" stroke-width="1"/>
<line x1="55.4" y1="551.8" x2="63.9" y2="548.2" stroke="#000" stroke-width="1"/>
<rect x="383.3" y="547.1" width="3" height="2.9" fill="#fff"/>
<line x1="380.5" y1="548.9" x2="389" y2="545.3" stroke="#000" stroke-width="1"/>
<line x1="380.5" y1="551.8" x2="389" y2="548.2" stroke="#000" stroke-width="1"/>
<line x1="59.7" y1="461.7" x2="63.5" y2="461.7" stroke="#000" stroke-width="1"/>
<text font-size="12.2" text-anchor="end" transform="translate(54.6,465.3) scale(1.02,1)">2400</text>
<line x1="59.7" y1="491.7" x2="63.5" y2="491.7" stroke="#000" stroke-width="1"/>
<text font-size="12.2" text-anchor="end" transform="translate(54.6,495.3) scale(1.02,1)">1600</text>
<line x1="59.7" y1="522.1" x2="63.5" y2="522.1" stroke="#000" stroke-width="1"/>
<text font-size="12.2" text-anchor="end" transform="translate(54.6,525.7) scale(1.02,1)">800</text>
<line x1="59.7" y1="579.3" x2="63.5" y2="579.3" stroke="#000" stroke-width="1"/>
<text font-size="12.2" text-anchor="end" transform="translate(54.6,582.9) scale(1.02,1)">100</text>
<line x1="59.7" y1="608.8" x2="63.5" y2="608.8" stroke="#000" stroke-width="1"/>
<text font-size="12.2" text-anchor="end" transform="translate(54.6,612.4) scale(1.02,1)">50</text>
<line x1="59.7" y1="638.6" x2="63.5" y2="638.6" stroke="#000" stroke-width="1"/>
<text font-size="12.2" text-anchor="end" transform="translate(54.6,642.2) scale(1.02,1)">0</text>
<line x1="85" y1="638.7" x2="85" y2="643" stroke="#000" stroke-width="1"/>
<text font-size="12.8" transform="translate(78.3,652.5) rotate(45)">LDH</text>
<line x1="124.1" y1="638.7" x2="124.1" y2="643" stroke="#000" stroke-width="1"/>
<text font-size="12.8" transform="translate(117.4,652.5) rotate(45)">ALT</text>
<line x1="163.3" y1="638.7" x2="163.3" y2="643" stroke="#000" stroke-width="1"/>
<text font-size="12.8" transform="translate(156.6,652.5) rotate(45)">AST</text>
<line x1="202.4" y1="638.7" x2="202.4" y2="643" stroke="#000" stroke-width="1"/>
<text font-size="12.8" transform="translate(195.7,652.5) rotate(45)">BUN</text>
<line x1="241.5" y1="638.7" x2="241.5" y2="643" stroke="#000" stroke-width="1"/>
<text font-size="12.8" transform="translate(234.8,652.5) rotate(45)">Cr</text>
<line x1="280.6" y1="638.7" x2="280.6" y2="643" stroke="#000" stroke-width="1"/>
<text font-size="12.8" transform="translate(273.9,652.5) rotate(45)">UA</text>
<line x1="319.7" y1="638.7" x2="319.7" y2="643" stroke="#000" stroke-width="1"/>
<text font-size="12.8" transform="translate(313,652.5) rotate(45)">CK</text>
<line x1="358.8" y1="638.7" x2="358.8" y2="643" stroke="#000" stroke-width="1"/>
<text font-size="12.8" transform="translate(352.1,652.5) rotate(45)">CH50</text>
<rect x="108.5" y="460.5" width="133.6" height="72.9" fill="#fff" stroke="#d0d0d0" stroke-width="1"/>
<rect x="110.1" y="464.5" width="22.1" height="8.3" fill="#000000" stroke="#222" stroke-width="1"/>
<text x="135.7" y="472.4" font-size="12">Control</text>
<rect x="110.1" y="479" width="22.1" height="8.3" fill="#808080" stroke="#222" stroke-width="1"/>
<text x="135.7" y="486.9" font-size="12">Alumina NPs (L)</text>
<rect x="110.1" y="493.7" width="22.1" height="8.3" fill="#c0c0c0" stroke="#222" stroke-width="1"/>
<text x="135.7" y="501.6" font-size="12">Alumina NPs (H)</text>
<rect x="110.1" y="507.9" width="22.1" height="8.3" fill="#ffffff" stroke="#222" stroke-width="1"/>
<text x="135.7" y="515.8" font-size="12">Alumina powder (L)</text>
<rect x="110.1" y="522.6" width="22.1" height="8.3" fill="url(#hatch)" stroke="#222" stroke-width="1"/>
<text x="135.7" y="530.5" font-size="12">Alumina powder (H)</text>
<text font-size="33.5" transform="translate(0.5,466.8) scale(1.05,1)">c</text>
<text font-size="16.2" transform="translate(18,604.3) rotate(-90) scale(1.007,1)">Bioactivity</text>
<text font-size="16.2" transform="translate(133.8,699.8) scale(1.016,1)">Biochemical parameters</text>
</svg></body></html>
